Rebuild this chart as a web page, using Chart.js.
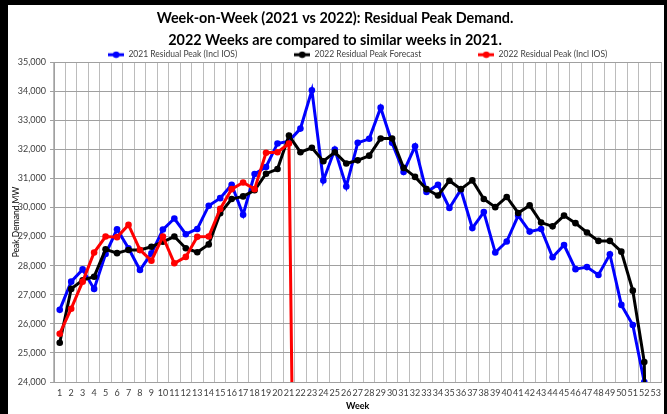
<!DOCTYPE html>
<html><head><meta charset="utf-8">
<script src="https://cdn.jsdelivr.net/npm/chart.js@4"></script>
<style>
html,body{margin:0;padding:0;background:#fff;}
#wrap{position:relative;width:667px;height:414px;overflow:hidden;background:#fff;}
canvas{position:absolute;left:0;top:0;}
.b{position:absolute;background:#000;}
</style></head><body>
<div id="wrap">
<canvas id="c" width="667" height="414"></canvas>
<div class="b" style="left:0;top:0;width:8px;height:414px"></div>
<div class="b" style="left:0;top:0;width:667px;height:5px"></div>
<div class="b" style="left:664px;top:0;width:3px;height:414px"></div>
</div>
<script>
const weeks = Array.from({length: 53}, (_, i) => String(i + 1));

const titleLines = ["Week-on-Week (2021 vs 2022): Residual Peak Demand.",
                    "2022 Weeks are compared to similar weeks in 2021."];
const seriesNames = ["2021 Residual Peak (Incl IOS)", "2022 Residual Peak Forecast", "2022 Residual Peak (Incl IOS)"];

const peak2021 = [26480, 27450, 27870, 27200, 28400, 29250, 28600, 27850, 28420, 29240,
                  29620, 29080, 29260, 30060, 30320, 30780, 29750, 31150, 31390, 32200,
                  32280, 32710, 34030, 30930, 31990, 30720, 32220, 32360, 33430, 32220,
                  31220, 32100, 30530, 30780, 29980, 30610, 29290, 29840, 28450, 28830,
                  29720, 29170, 29260, 28290, 28710, 27880, 27950, 27680, 28390, 26650,
                  25960, 24000, null];
const forecast2022 = [25350, 27200, 27500, 27620, 28560, 28430, 28540, 28540, 28650, 28820,
                      29000, 28600, 28460, 28730, 29800, 30290, 30380, 30590, 31160, 31320,
                      32470, 31900, 32050, 31590, 31900, 31510, 31620, 31780, 32370, 32370,
                      31360, 31050, 30630, 30410, 30920, 30630, 30930, 30290, 30010, 30360,
                      29810, 30070, 29480, 29350, 29720, 29460, 29140, 28850, 28850, 28480,
                      27140, 24690, 0];
const peak2022 = [25660, 26520, 27450, 28450, 29000, 28980, 29400, 28540, 28170, 29000,
                  28080, 28300, 28990, 29000, 29950, 30630, 30860, 30630, 31880, 31900,
                  32200, 0];

const yMin = 24000, yMax = 35000, yStep = 1000;
const colors = ["#0000ff", "#000000", "#ff0000"];
const seriesData = [peak2021, forecast2022, peak2022];

const FONT = "Lato, 'Liberation Sans', sans-serif";

function legendMarker(color) {
  const c = document.createElement('canvas');
  c.width = 16; c.height = 8;
  const x = c.getContext('2d');
  x.strokeStyle = color; x.lineWidth = 3;
  x.beginPath(); x.moveTo(0, 4); x.lineTo(16, 4); x.stroke();
  x.fillStyle = color; x.beginPath(); x.arc(8, 4, 3.3, 0, Math.PI * 2); x.fill();
  return c;
}
const markers = colors.map(legendMarker);

const LEGEND_PAD = 57;
const legendShift = {
  id: 'legendShift',
  afterLayout(chart) {
    const lg = chart.legend, ca = chart.chartArea;
    if (!lg) return;
    const dx = (ca.left + ca.right) / 2 - (lg.left + lg.right) / 2;
    lg.left += dx; lg.right += dx;
    lg.top = 55 - LEGEND_PAD - 4.5;
  }
};

new Chart(document.getElementById('c'), {
  type: 'line',
  data: {
    labels: weeks,
    datasets: seriesData.map((d, i) => ({
      label: seriesNames[i],
      data: d,
      borderColor: colors[i],
      backgroundColor: colors[i],
      borderWidth: 3,
      pointRadius: 3.3,
      pointBorderWidth: 0,
      pointBackgroundColor: colors[i],
      tension: 0,
      order: 3 - i
    }))
  },
  plugins: [legendShift],
  options: {
    responsive: false,
    animation: false,
    devicePixelRatio: 1,
    layout: { padding: { left: 8, right: 5, top: 7, bottom: 2 } },
    plugins: {
      title: {
        display: true,
        text: titleLines,
        color: '#000',
        font: { family: FONT, size: 14.4, weight: 'bold', lineHeight: '22.5px' },
        padding: { top: 0, bottom: 0 }
      },
      legend: {
        display: true,
        position: 'top',
        maxHeight: 10,
        labels: {
          usePointStyle: true,
          pointStyleWidth: 16,
          boxHeight: 8.5,
          padding: LEGEND_PAD,
          color: '#404040',
          font: { family: FONT, size: 8.5 },
          sort: (a, b) => a.datasetIndex - b.datasetIndex,
          generateLabels(chart) {
            const items = Chart.defaults.plugins.legend.labels.generateLabels(chart);
            items.forEach(it => { it.pointStyle = markers[it.datasetIndex]; });
            return items;
          }
        }
      },
      tooltip: { enabled: false }
    },
    scales: {
      x: {
        type: 'category',
        offset: true,
        grid: { offset: true, color: '#bcbcbc', lineWidth: 1, drawTicks: false },
        border: { color: '#a0a0a0' },
        ticks: { color: '#404040', font: { family: FONT, size: 9 }, padding: 6, autoSkip: false, maxRotation: 0 },
        title: { display: true, text: 'Week', color: '#000', font: { family: FONT, size: 9, weight: 'bold', lineHeight: 1.2 }, padding: { top: 0, bottom: 1 } },
        afterFit(s) { s.height = 30; }
      },
      y: {
        min: yMin, max: yMax,
        ticks: {
          stepSize: yStep, color: '#404040', font: { family: FONT, size: 9 }, padding: 4,
          callback: v => Number(v).toLocaleString('en-US')
        },
        grid: { color: '#a0a0a0', lineWidth: 1, tickLength: 4 },
        border: { color: '#a0a0a0' },
        title: { display: true, text: 'Peak Demand MW', color: '#000', font: { family: FONT, size: 8.5, lineHeight: 1.2 }, padding: { top: 3.5, bottom: 0 } },
        afterFit(s) { s.width = 46; }
      }
    }
  }
});
</script>
</body></html>
